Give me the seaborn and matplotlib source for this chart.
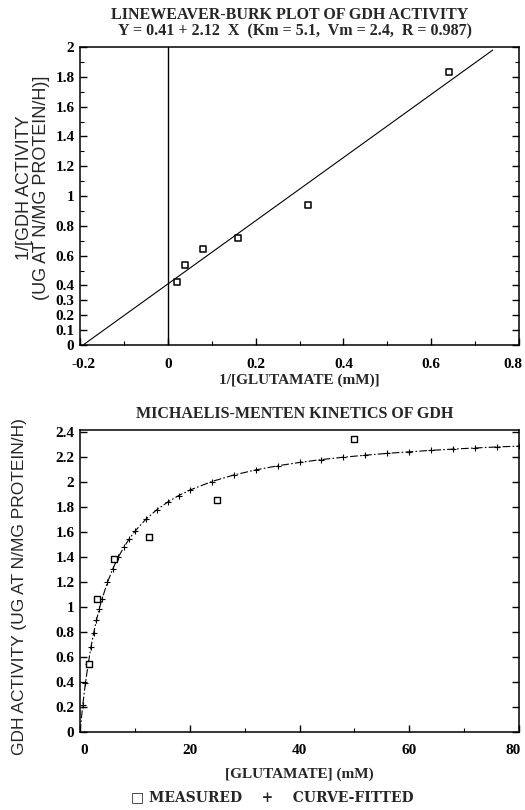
import matplotlib
matplotlib.use("Agg")
import matplotlib.pyplot as plt
import matplotlib.transforms as mtransforms
import seaborn as sns
import numpy as np
import pandas as pd

# ---- data ----
glutamate_mM = [1.5625, 3.125, 6.25, 12.5, 25, 50]
activity_measured = [0.545, 1.065, 1.39, 1.56, 1.86, 2.35]

# fitted Lineweaver-Burk line (endpoints)
lb_fit_x = [-0.193, 0.74]
lb_fit_y = [0.0, 1.979]

# curve-fitted Michaelis-Menten values
mm_fit_s = [0, 0.5, 1, 1.5, 2, 2.5, 3, 3.5, 4, 5, 6, 7, 8, 9, 10, 12, 14, 16, 18, 20,
            24, 28, 32, 36, 40, 44, 48, 52, 56, 60, 64, 68, 72, 76, 80]
mm_fit_v = [0.0, 0.215, 0.395, 0.548, 0.680, 0.795, 0.895, 0.985, 1.064, 1.199, 1.310,
            1.403, 1.481, 1.549, 1.608, 1.705, 1.781, 1.843, 1.895, 1.938,
            2.007, 2.059, 2.100, 2.133, 2.160, 2.183, 2.202, 2.218, 2.233, 2.245,
            2.257, 2.267, 2.276, 2.284, 2.291]

top_yticks = [0, 0.1, 0.2, 0.3, 0.4, 0.6, 0.8, 1, 1.2, 1.4, 1.6, 1.8, 2]
top_yticklabels = ["0", "0.1", "0.2", "0.3", "0.4", "0.6", "0.8", "1", "1.2", "1.4", "1.6", "1.8", "2"]
top_xticks = [-0.2, 0, 0.2, 0.4, 0.6, 0.8]
top_xticklabels = ["-0.2", "0", "0.2", "0.4", "0.6", "0.8"]
bot_yticks = [0, 0.2, 0.4, 0.6, 0.8, 1, 1.2, 1.4, 1.6, 1.8, 2, 2.2, 2.4]
bot_yticklabels = ["0", "0.2", "0.4", "0.6", "0.8", "1", "1.2", "1.4", "1.6", "1.8", "2", "2.2", "2.4"]
bot_xticks = [0, 20, 40, 60, 80]
bot_xticklabels = ["0", "20", "40", "60", "80"]

sns.set_theme(style="ticks")
plt.rcParams["font.family"] = ["Liberation Serif", "DejaVu Serif"]

measured = pd.DataFrame({"s": glutamate_mM, "v": activity_measured})
measured["inv_s"] = 1.0 / measured["s"]
measured["inv_v"] = 1.0 / measured["v"]
lb_fit = pd.DataFrame({"x": lb_fit_x, "y": lb_fit_y})
mm_fit = pd.DataFrame({"s": mm_fit_s, "v": mm_fit_v})

fig = plt.figure(figsize=(5.25, 8.1), dpi=100)
W, H = 525, 810
ax1 = fig.add_axes([80 / W, 1 - 345 / H, 439 / W, 298 / H])
ax2 = fig.add_axes([80 / W, 1 - 732 / H, 439 / W, 302 / H])

tick_font = dict(fontsize=11, family="Liberation Serif", fontweight="bold")
sans = ["Liberation Sans", "DejaVu Sans"]

# ---- top: Lineweaver-Burk ----
ax1.axvline(0, color="black", lw=1.0, zorder=1)
sns.lineplot(data=lb_fit, x="x", y="y", ax=ax1, color="black", lw=0.8, zorder=2)
sns.scatterplot(data=measured, x="inv_s", y="inv_v", ax=ax1, marker="s", s=22,
                facecolor="white", edgecolor="black", linewidth=1.1, zorder=3)
ax1.set_xlim(-0.2, 0.8)
ax1.set_ylim(0, 2)
ax1.set_xticks(top_xticks)
ax1.set_xticklabels(top_xticklabels, **tick_font)
ax1.set_xticks(np.arange(-0.1, 0.8, 0.2), minor=True)
ax1.set_yticks(top_yticks)
ax1.set_yticklabels(top_yticklabels, **tick_font)
ax1.set_yticks(np.arange(0.5, 2.0, 0.2), minor=True)
ax1.set_xlabel("1/[GLUTAMATE (mM)]", fontsize=11, fontweight="bold", labelpad=2)
ax1.set_ylabel("1/[GDH ACTIVITY\n(UG AT N/MG PROTEIN/H)]", fontsize=13,
               family=sans, linespacing=1.0)
ax1.yaxis.set_label_coords(-0.068, 0.527)

# ---- bottom: Michaelis-Menten ----
sns.lineplot(data=mm_fit, x="s", y="v", ax=ax2, color="black", lw=0.8,
             linestyle=(0, (7, 2, 1.5, 2)), zorder=2)
sns.scatterplot(data=mm_fit.iloc[1:], x="s", y="v", ax=ax2, marker="+", s=18,
                color="black", linewidth=0.8, zorder=3)
sns.scatterplot(data=measured, x="s", y="v", ax=ax2, marker="s", s=18,
                facecolor="white", edgecolor="black", linewidth=1.0, zorder=4)
ax2.set_xlim(0, 80)
ax2.set_ylim(0, 2.42)
ax2.set_xticks(bot_xticks)
ax2.set_xticklabels(bot_xticklabels, **tick_font)
ax2.set_xticks(np.arange(10, 80, 20), minor=True)
ax2.set_yticks(bot_yticks)
ax2.set_yticklabels(bot_yticklabels, **tick_font)
ax2.set_xlabel("[GLUTAMATE] (mM)", fontsize=11, fontweight="bold", labelpad=7)
ax2.set_ylabel("GDH ACTIVITY (UG AT N/MG PROTEIN/H)", fontsize=12.5, family=sans)
ax2.yaxis.set_label_coords(-0.12, 0.48)

for ax in (ax1, ax2):
    for sp in ax.spines.values():
        sp.set_linewidth(1.1)
        sp.set_color("black")
    ax.tick_params(axis="both", which="major", direction="in", length=5,
                   width=1.0, color="black", labelcolor="black", pad=4)
    ax.tick_params(axis="x", which="major", pad=9)
    ax.tick_params(axis="both", which="minor", direction="in", length=3,
                   width=0.8, color="black")
    ax.tick_params(axis="y", right=True, which="both")
    # nudge the end x tick labels inward so they stay inside the figure
    last = ax.get_xticklabels()[-1]
    last.set_transform(last.get_transform() +
                       mtransforms.ScaledTranslation(-6 / 100, 0, fig.dpi_scale_trans))
    first = ax.get_xticklabels()[0]
    first.set_transform(first.get_transform() +
                        mtransforms.ScaledTranslation(4 / 100, 0, fig.dpi_scale_trans))

# ---- titles and legend ----
fig.text(290 / W, 1 - 15 / H, "LINEWEAVER-BURK PLOT OF GDH ACTIVITY",
         ha="center", va="center", fontsize=11.5, fontweight="bold")
fig.text(295 / W, 1 - 31 / H, "Y = 0.41 + 2.12  X  (Km = 5.1,  Vm = 2.4,  R = 0.987)",
         ha="center", va="center", fontsize=11.5, fontweight="bold")
fig.text(295 / W, 1 - 414 / H, "MICHAELIS-MENTEN KINETICS OF GDH",
         ha="center", va="center", fontsize=11.5, fontweight="bold")
fig.text(272 / W, 1 - 797 / H, "\u25a1 MEASURED    +    CURVE-FITTED",
         ha="center", va="center", fontsize=10, fontweight="bold",
         family=["DejaVu Serif"])

fig.savefig("out.png", dpi=100, facecolor="white")
